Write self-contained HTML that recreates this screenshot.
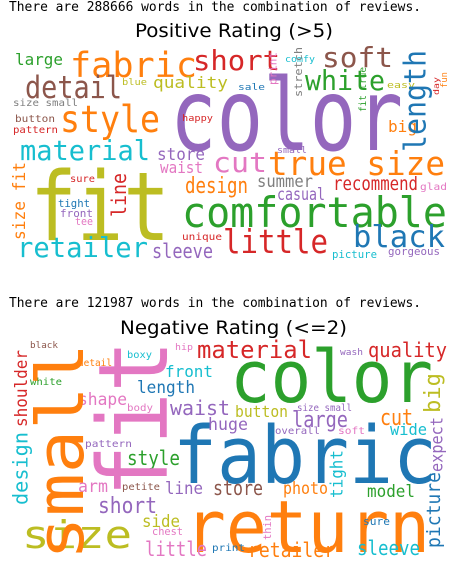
<!DOCTYPE html>
<html><head><meta charset="utf-8"><style>
html,body{margin:0;padding:0;background:#fff;}
svg{display:block;}
</style></head><body>
<svg id="chart" width="459" height="568" viewBox="0 0 459 568" xmlns="http://www.w3.org/2000/svg">
<rect width="459" height="568" fill="#fff"/>
<text x="9" y="11" font-family="DejaVu Sans Mono, Liberation Mono, monospace" font-size="13" textLength="412" lengthAdjust="spacingAndGlyphs" fill="#000">There are 288666 words in the combination of reviews.</text>
<text x="135" y="37" font-family="DejaVu Sans, Liberation Sans, sans-serif" font-size="19" textLength="198" lengthAdjust="spacingAndGlyphs" fill="#000">Positive Rating (&gt;5)</text>
<text x="9" y="307" font-family="DejaVu Sans Mono, Liberation Mono, monospace" font-size="13" textLength="412" lengthAdjust="spacingAndGlyphs" fill="#000">There are 121987 words in the combination of reviews.</text>
<text x="120" y="334" font-family="DejaVu Sans, Liberation Sans, sans-serif" font-size="19" textLength="227" lengthAdjust="spacingAndGlyphs" fill="#000">Negative Rating (&lt;=2)</text>
<g id="pos"></g>
<g id="neg"></g>
</svg>
<script>
// [word, x0, x1, baseline, fontSize, color, vertical]
// vertical words: x0/x1 = horizontal extent, y range given as [yTop,yBottom] in baseline/fs slot
const C={o:"#ff7f0e",r:"#d62728",g:"#2ca02c",b:"#1f77b4",p:"#9467bd",br:"#8c564b",pk:"#e377c2",gy:"#7f7f7f",ol:"#bcbd22",cy:"#17becf"};
const posWords=[
["color",170,403,150,100,C.p],["fit",30,170,240,95,C.ol],["fabric",70,197,77,35,C.o],["short",193,280,70,28,C.r],
["soft",322,393,67,28,C.br],["large",15,63,65,16,C.g],["detail",25,122,98,31,C.br],["quality",153,228,88,16,C.ol],
["white",305,385,90,28,C.g],["blue",122,147,85,9,C.ol],["comfy",285,315,62,9,C.cy],["sale",238,265,90,9,C.b],
["easy",387,415,88,9,C.ol],["size small",13,78,106,10,C.gy],["style",60,160,132,37,C.o],["button",15,55,122,10,C.br],
["pattern",13,58,133,10,C.r],["happy",182,213,121,9,C.r],["big",388,417,132,16,C.o],["material",20,150,160,28,C.cy],
["store",157,205,160,17,C.p],["small",277,307,153,9,C.p],["cut",213,267,172,28,C.pk],["true size",268,445,175,33,C.o],
["waist",160,203,173,16,C.pk],["sure",70,95,182,10,C.r],["design",185,248,193,22,C.o],["summer",257,313,187,17,C.gy],
["recommend",333,418,190,19,C.r],["glad",420,447,190,10,C.pk],["casual",277,325,200,17,C.p],["tight",58,90,207,11,C.b],
["front",60,93,217,11,C.p],["tee",75,93,225,11,C.pk],["comfortable",182,447,227,42,C.g],["unique",182,222,240,10,C.r],
["little",223,328,253,33,C.r],["black",353,445,247,30,C.b],["retailer",17,148,257,28,C.cy],["sleeve",152,213,258,20,C.p],
["picture",332,377,258,11,C.cy],["gorgeous",388,440,255,11,C.p]
];
// vertical: [word, xRight(baseline), yTop, yBottom, fontSize, color]
const posVert=[
["length",432,50,152,30,C.b],["fun",447,72,88,9,C.o],["print",279,52,85,11,C.pk],["stretch",302,47,97,11,C.gy],
["day",441,77,95,8,C.r],["fit true",366,67,112,10,C.g],["size fit",25,162,240,17,C.o],["line",126,173,217,20,C.r]
];
const negWords=[
["color",230,433,402,72,C.g],["fabric",173,437,483,79,C.b],["return",185,430,552,72,C.o],["size",22,132,548,38,C.ol],
["material",197,312,358,24,C.r],["quality",368,447,357,20,C.r],["black",30,58,348,9,C.br],["hip",175,193,350,9,C.pk],
["wash",340,363,355,9,C.p],["boxy",127,152,358,10,C.cy],["detail",78,112,366,10,C.o],["front",165,213,377,16,C.cy],
["white",30,62,385,10,C.g],["length",137,195,393,17,C.b],["shape",78,127,405,17,C.pk],["body",127,153,411,10,C.pk],
["waist",170,230,415,20,C.p],["button",235,288,417,16,C.ol],["size small",297,352,411,10,C.p],["large",292,348,427,22,C.p],
["cut",380,413,425,22,C.o],["huge",208,248,430,17,C.p],["overall",275,320,434,10,C.p],["soft",338,365,434,10,C.pk],
["wide",390,427,435,16,C.cy],["pattern",85,132,447,10,C.p],["style",127,180,465,20,C.g],["arm",78,108,492,17,C.pk],
["petite",122,160,490,10,C.br],["line",165,203,494,17,C.p],["store",213,263,495,20,C.br],["photo",283,328,494,17,C.o],
["model",367,415,497,17,C.g],["short",98,157,513,22,C.p],["side",142,180,527,17,C.ol],["chest",152,183,535,11,C.pk],
["sure",363,390,525,11,C.b],["little",145,207,556,20,C.pk],["print",212,245,551,10,C.b],["retailer",248,335,557,20,C.o],
["sleeve",357,420,555,20,C.cy]
];
const negVert=[
["fit",167,340,497,96,C.pk],["small",83,343,560,65,C.o],["shoulder",27,350,427,17,C.r],["big",445,373,413,22,C.ol],
["design",32,432,505,20,C.cy],["expect",446,417,472,17,C.p],["picture",444,472,548,19,C.b],["tight",346,450,498,17,C.cy],
["thin",271,515,540,11,C.pk]
];
const NS="http://www.w3.org/2000/svg";
function mk(g,w,fs,col){
  const t=document.createElementNS(NS,"text");
  t.textContent=w;
  t.setAttribute("font-family","DejaVu Sans Mono, Liberation Mono, monospace");
  t.setAttribute("font-size",fs);
  t.setAttribute("fill",col);
  t.setAttribute("lengthAdjust","spacingAndGlyphs");
  g.appendChild(t);
  return t;
}
function drawH(g,arr,prefix){
  arr.forEach(d=>{
    const t=mk(g,d[0],d[4],d[5]);
    t.setAttribute("x",d[1]);t.setAttribute("y",d[3]);
    t.setAttribute("textLength",d[2]-d[1]);
    
    
  });
}
function drawV(g,arr,prefix){
  arr.forEach(d=>{
    const t=mk(g,d[0],d[4],d[5]);
    const desc=/[gpqy]/.test(d[0])?0.22*d[4]:0;
    t.setAttribute("transform","translate("+(d[1]-desc)+","+d[3]+") rotate(-90)");
    t.setAttribute("x",0);t.setAttribute("y",0);
    t.setAttribute("textLength",d[3]-d[2]);
    
    
  });
}
const pg=document.getElementById("pos"),ng=document.getElementById("neg");
drawH(pg,posWords,"positive");drawV(pg,posVert,"positive");
drawH(ng,negWords,"negative");drawV(ng,negVert,"negative");
</script>
</body></html>
